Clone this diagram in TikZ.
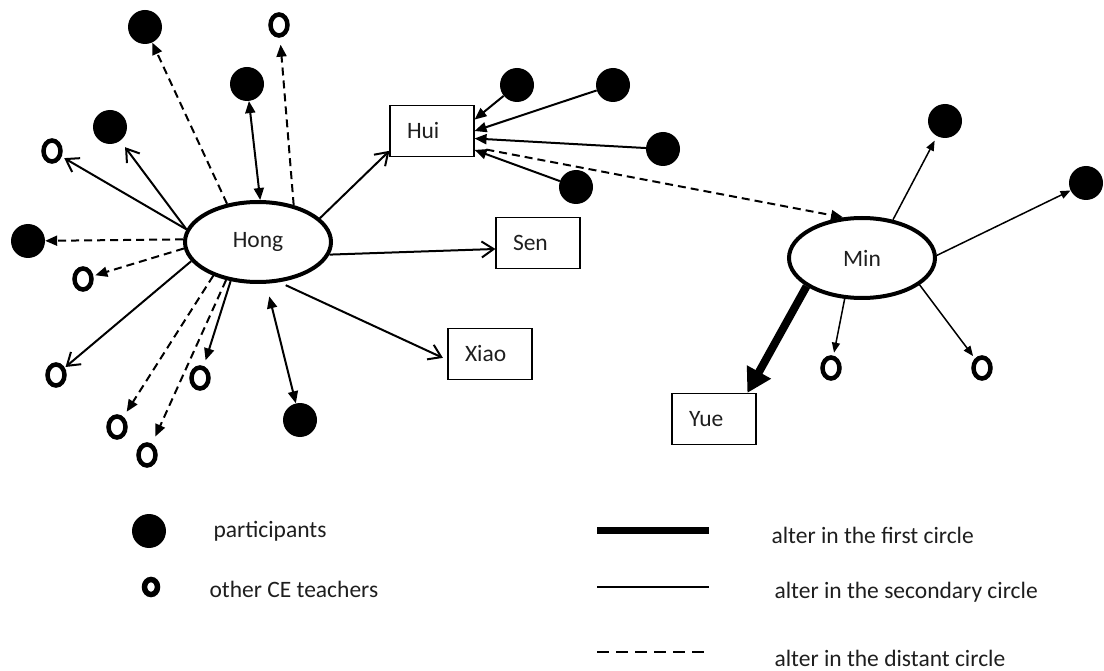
\documentclass[tikz,border=0pt]{standalone}
\usepackage{fontspec}
\setmainfont{Carlito}
\usetikzlibrary{arrows.meta,shapes.geometric}
\definecolor{txt}{RGB}{30,30,30}
\begin{document}
\begin{tikzpicture}[x=1pt,y=-1pt,
 every node/.style={font=\fontsize{23.5}{28}\selectfont, text=txt},
 ego/.style={ellipse, draw=black, line width=4pt, minimum width=146pt, minimum height=80pt, inner sep=0pt},
 alterbox/.style={rectangle, draw=black, line width=1.1pt, minimum height=51pt, text width=50pt, inner xsep=17pt, inner ysep=0pt, align=left},
 part/.style={circle, fill=black, minimum size=34pt, inner sep=0pt},
 other/.style={ellipse, draw=black, line width=4.5pt, minimum width=17pt, minimum height=21pt, inner sep=0pt},
 sec/.style={line width=2pt},
 dist/.style={line width=2pt, dash pattern=on 8pt off 5pt},
 barb/.style={-{Straight Barb[length=12pt,width=16pt]}},
 tri/.style={-{Triangle[length=12pt,width=10pt]}},
 dtri/.style={{Triangle[length=12pt,width=10pt]}-{Triangle[length=12pt,width=10pt]}},
 thinarr/.style={line width=1.5pt, -{Triangle[length=10pt,width=8pt]}},
]
\useasboundingbox (0,0) rectangle (1104,671);
% egos and alters
\node[ego] (hong) at (258,242) {Hong};
\node[ego] (min) at (862,258) {Min};
\node[alterbox] (hui) at (432,131) {Hui};
\node[alterbox] (sen) at (538,243) {Sen};
\node[alterbox] (xiao) at (490,354) {Xiao};
\node[alterbox] (yue) at (714,419) {Yue};
% participants
\node[part] (p1) at (145,27) {};
\node[part] (p2) at (247,84) {};
\node[part] (p3) at (110,127) {};
\node[part] (p4) at (28,241) {};
\node[part] (p5) at (300,420) {};
\node[part] (p6) at (517,85) {};
\node[part] (p7) at (613,85) {};
\node[part] (p8) at (663,149) {};
\node[part] (p9) at (576,187) {};
\node[part] (p10) at (945,121) {};
\node[part] (p11) at (1086,183) {};
% other CE teachers
\node[other] (o1) at (279,25) {};
\node[other] (o2) at (52,151) {};
\node[other] (o3) at (83,279) {};
\node[other] (o4) at (56,375) {};
\node[other] (o5) at (200,378) {};
\node[other] (o6) at (117,427) {};
\node[other] (o7) at (147,455) {};
\node[other] (o8) at (831,368) {};
\node[other] (o9) at (982,368) {};
% Hong edges
\draw[dist,tri] (hong.129.5) -- (p1);
\draw[sec,dtri] (hong.87) -- (p2);
\draw[dist,tri,shorten >=7pt] (hong.46.5) -- (o1);
\draw[sec,barb,shorten >=3pt] (hong.170) -- (o2);
\draw[sec,barb,shorten >=8pt] (hong.170) -- (p3);
\draw[dist,tri] (hong.178) -- (p4);
\draw[dist,tri,shorten >=2pt] (hong.185) -- (o3);
\draw[sec,barb,shorten >=1pt] (hong.196) -- (o4);
\draw[dist,tri,shorten >=6pt] (hong.217) -- (o6);
\draw[dist,tri,shorten >=8pt] (hong.230.5) -- (o7);
\draw[sec,tri,shorten >=6pt] (hong.235) -- (o5);
\draw[sec,dtri,shorten <=13pt] (hong.281) -- (p5);
\draw[sec,barb,shorten <=7pt,shorten >=5pt] (hong.298) -- (xiao.188);
\draw[sec,barb] (hong.350) -- (sen.188);
\draw[sec,barb] (hong.21) -- (hui.205);
% Hui edges
\draw[sec,tri] (p6) -- (hui.15);
\draw[sec,tri] (p7) -- (hui.0);
\draw[sec,tri] (p8) -- (hui.350);
\draw[sec,tri] (p9) -- (hui.336);
\draw[dist,tri,shorten <=12pt] (hui.339) -- (min.115);
% Min edges
\draw[thinarr,shorten >=5pt] (min.51.7) -- (p10);
\draw[thinarr] (min.2) -- (p11);
\draw[thinarr,shorten >=3pt] (min.247) -- (o8);
\draw[thinarr,shorten >=3pt] (min.335) -- (o9);
\draw[line width=8pt,-{Triangle[length=24pt,width=26pt]}] (min.207) -- (yue.38);
% legend
\node[part] (lp) at (149,531) {};
\node[other, line width=5.5pt, minimum width=13pt, minimum height=15pt] (lo) at (151,587) {};
\node[anchor=base west] (lpt) at (210,537) {participants};
\node[anchor=base west] (lot) at (206,597) {other CE teachers};
\coordinate (l1a) at (597,530); \coordinate (l1b) at (709,530);
\coordinate (l2a) at (597,587); \coordinate (l2b) at (709,587);
\coordinate (l3a) at (597,652); \coordinate (l3b) at (706,652);
\draw[line width=7pt] (l1a) -- (l1b);
\draw[line width=1.5pt] (l2a) -- (l2b);
\draw[line width=1.5pt, dash pattern=on 12pt off 7pt] (l3a) -- (l3b);
\node[anchor=base west] (l1t) at (768,543) {alter in the first circle};
\node[anchor=base west] (l2t) at (771,598) {alter in the secondary circle};
\node[anchor=base west] (l3t) at (771,666) {alter in the distant circle};
\end{tikzpicture}
\end{document}
